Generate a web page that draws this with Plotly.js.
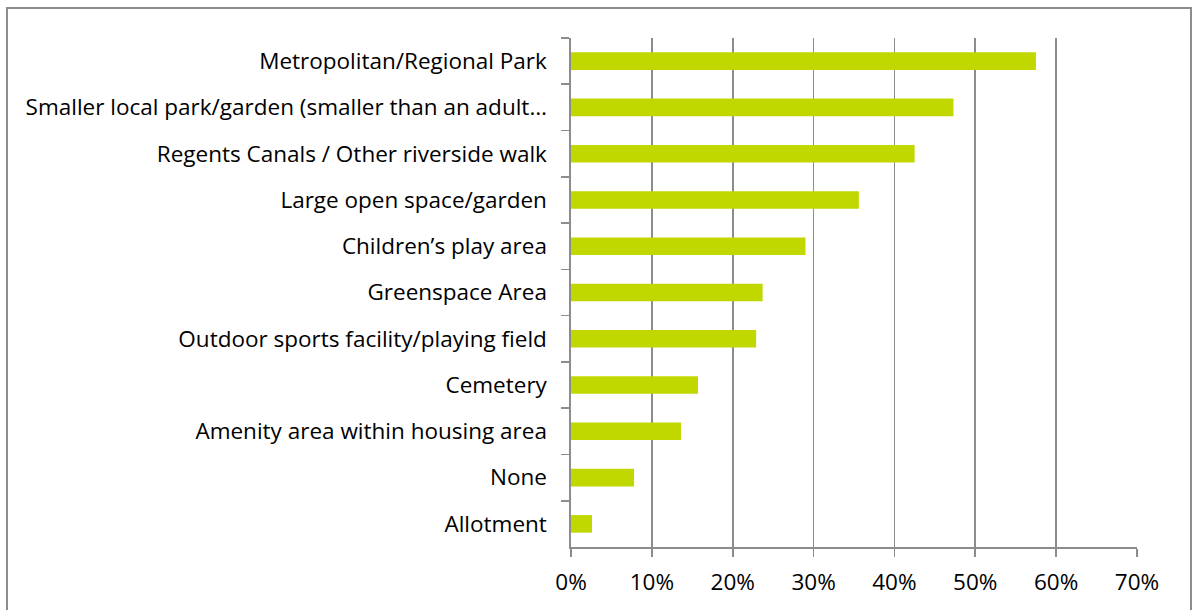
<!DOCTYPE html>
<html>
<head>
<meta charset="utf-8">
<script src="https://cdn.plot.ly/plotly-3.0.1.min.js"></script>
<style>html,body{margin:0;padding:0;background:#fff;}#chart{width:1197px;height:610px;}</style>
</head>
<body>
<div id="chart"></div>
<script>
const categories = [
  "Metropolitan/Regional Park",
  "Smaller local park/garden (smaller than an adult…",
  "Regents Canals / Other riverside walk",
  "Large open space/garden",
  "Children’s play area",
  "Greenspace Area",
  "Outdoor sports facility/playing field",
  "Cemetery",
  "Amenity area within housing area",
  "None",
  "Allotment"
];
const values = [0.575, 0.473, 0.425, 0.356, 0.290, 0.237, 0.229, 0.157, 0.136, 0.078, 0.026];
const xTickValues = [0, 0.1, 0.2, 0.3, 0.4, 0.5, 0.6, 0.7];
const xTickLabels = ["0%", "10%", "20%", "30%", "40%", "50%", "60%", "70%"];

const W = 1197, H = 610;
const m = {l: 571, r: 60, t: 38, b: 63};
const pw = W - m.l - m.r, ph = H - m.t - m.b;
const px = v => (v - m.l) / pw;
const py = v => (H - m.b - v) / ph;

const font = "'Open Sans', sans-serif";

Plotly.newPlot('chart', [{
  type: 'bar',
  orientation: 'h',
  y: categories,
  x: values,
  marker: {color: '#c0d800', line: {width: 0}},
  hoverinfo: 'skip'
}], {
  width: W, height: H,
  margin: m,
  paper_bgcolor: '#ffffff',
  plot_bgcolor: '#ffffff',
  bargap: 0.62,
  showlegend: false,
  font: {family: font, size: 22.5, color: '#000000'},
  xaxis: {
    range: [0, 0.7],
    tickvals: xTickValues,
    ticktext: xTickLabels,
    showgrid: true,
    gridcolor: '#8c8c8c',
    gridwidth: 1.6,
    zeroline: false,
    showline: true,
    linecolor: '#8c8c8c',
    linewidth: 1.6,
    ticks: 'outside',
    ticklen: 8,
    tickwidth: 1.6,
    tickcolor: '#8c8c8c',
    ticklabelstandoff: 6,
    tickfont: {family: font, size: 22.5, color: '#000'},
    fixedrange: true
  },
  yaxis: {
    type: 'category',
    autorange: 'reversed',
    showgrid: false,
    zeroline: false,
    showline: true,
    linecolor: '#8c8c8c',
    linewidth: 1.6,
    ticks: 'outside',
    tickson: 'boundaries',
    ticklen: 8,
    tickwidth: 1.6,
    tickcolor: '#8c8c8c',
    ticklabelstandoff: 18,
    tickfont: {family: font, size: 22.5, color: '#000'},
    fixedrange: true
  },
  shapes: [{
    type: 'rect', xref: 'paper', yref: 'paper',
    x0: px(7), x1: px(1191), y0: py(620), y1: py(8),
    line: {color: '#8c8c8c', width: 2},
    fillcolor: 'rgba(0,0,0,0)', layer: 'below'
  }]
}, {staticPlot: true});
</script>
</body>
</html>
